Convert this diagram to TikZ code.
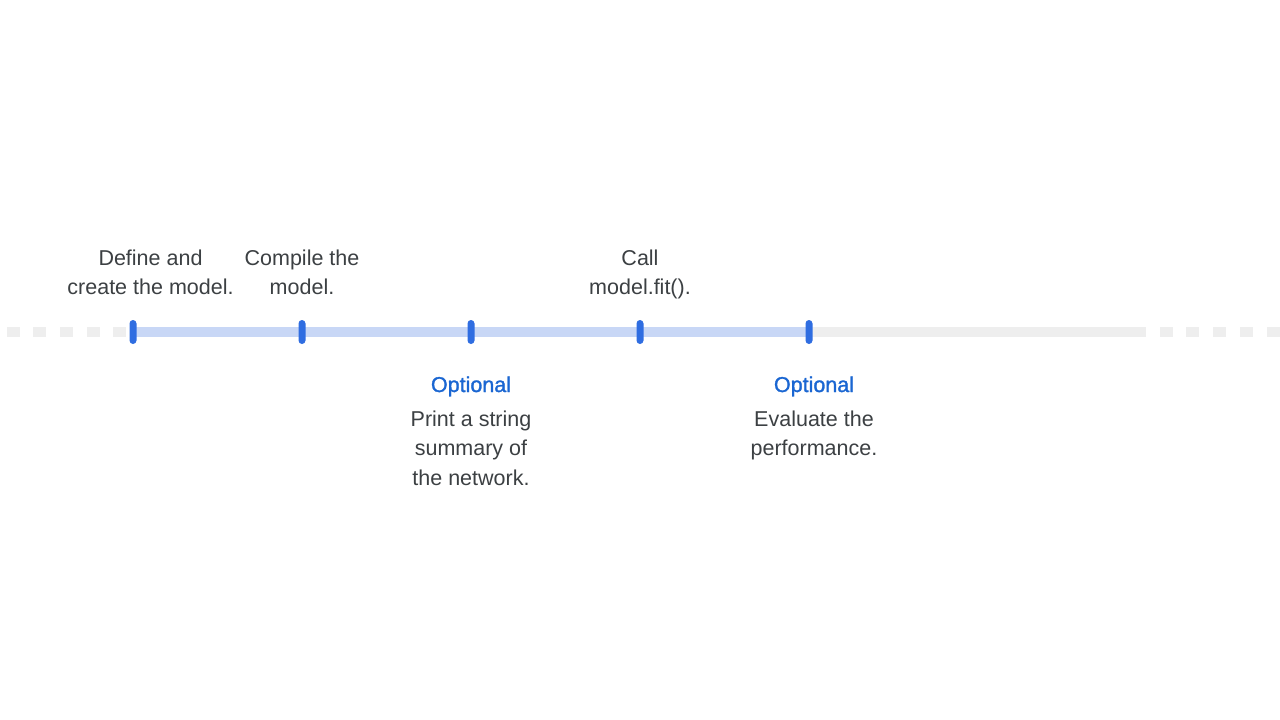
\documentclass[tikz,border=0pt]{standalone}
\usepackage{fontspec}
\setmainfont{Liberation Sans}
\newfontfamily\medfont[FakeBold=1.3]{Liberation Sans}
\definecolor{barblue}{HTML}{C8D7F6}
\definecolor{bargray}{HTML}{EEEEEE}
\definecolor{tickblue}{HTML}{2F6DE1}
\definecolor{txt}{HTML}{3C4043}
\definecolor{optblue}{HTML}{1A66D2}
\tikzset{
  tickmark/.style={fill=tickblue, draw=none, rounded corners=3.5pt, minimum width=7pt, minimum height=24pt, inner sep=0pt},
  lbl/.style={anchor=base, inner sep=0pt, text=txt, font=\fontsize{21.5}{29.5}\selectfont},
  opt/.style={anchor=base, inner sep=0pt, text=optblue, font=\fontsize{21.5}{29.5}\selectfont\medfont},
  gsq/.style={fill=bargray, draw=none, minimum width=13pt, minimum height=10pt, inner sep=0pt}
}
\newcommand{\lines}[1]{\setlength{\tabcolsep}{0pt}\begin{tabular}[t]{c}#1\end{tabular}}
\begin{document}
\begin{tikzpicture}[x=1pt,y=-1pt]
\useasboundingbox[fill=white] (0,0) rectangle (1280,720);
% dashed gray ends
\foreach \i/\xx in {1/13,2/39.5,3/66,4/93,5/119} \node[gsq] (l\i) at (\xx,332) {};
\foreach \i/\xx in {1/1166.5,2/1192.5,3/1219.5,4/1246.5,5/1273.5} \node[gsq] (r\i) at (\xx,332) {};
\coordinate (gend) at (1146,332);
% ticks
\coordinate (p1) at (133,332);
\coordinate (p2) at (302,332);
\coordinate (p3) at (471,332);
\coordinate (p4) at (640,332);
\coordinate (p5) at (809,332);
\draw[bargray, line width=10pt] (p5) -- (gend);
\draw[barblue, line width=10pt] (p1) -- (p5);
\foreach \i in {1,...,5} \node[tickmark] (t\i) at (p\i) {};
% labels above
\node[lbl] (a1) at (150.5,265) {\lines{Define and\\create the model.}};
\node[lbl] (a2) at (302,265) {\lines{Compile the\\model.}};
\node[lbl] (a4) at (640,265) {\lines{Call\\model.fit().}};
% labels below
\node[opt] (o3) at (471,392) {Optional};
\node[lbl] (b3) at (471,426) {\lines{Print a string\\summary of\\the network.}};
\node[opt] (o5) at (814,392) {Optional};
\node[lbl] (b5) at (814,426) {\lines{Evaluate the\\performance.}};
\end{tikzpicture}
\end{document}
